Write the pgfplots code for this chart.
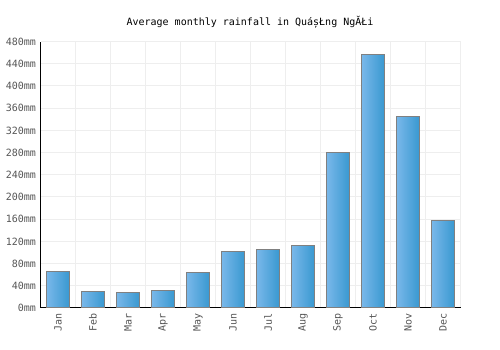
\documentclass[border=0pt]{standalone}
\usepackage{pgfplots}
\pgfplotsset{compat=1.18}
\usepackage{fontspec}
\setmainfont{DejaVu Sans Mono}
\definecolor{barL}{HTML}{7AB8EA}
\definecolor{barR}{HTML}{3898D0}
\definecolor{gridc}{HTML}{EEEEEE}
\definecolor{tickc}{HTML}{555555}
\begin{document}
\begin{tikzpicture}
\path[use as bounding box] (0,0) rectangle (500pt,350pt);
\node[font=\fontsize{10}{12}\selectfont, text=black] at (250pt,328pt) {Average monthly rainfall in QuáșŁng NgĂŁi};
\begin{axis}[
  at={(40.5pt,42pt)}, anchor=south west,
  scale only axis, width=420pt, height=266.4pt,
  xmin=-0.5, xmax=11.5, ymin=0, ymax=480,
  xtick={0,...,11},
  xticklabels={Jan,Feb,Mar,Apr,May,Jun,Jul,Aug,Sep,Oct,Nov,Dec},
  minor xtick={-0.5,0.5,...,11.5},
  xminorgrids, ymajorgrids,
  ytick={0,40,...,480},
  yticklabel={\pgfmathprintnumber{\tick}mm},
  /pgf/number format/assume math mode=true,
  grid style={draw=gridc, line width=1pt},
  minor grid style={draw=gridc, line width=1pt},
  axis x line*=bottom, axis y line*=left,
  axis line style={black, line width=1pt},
  major tick length=0pt, minor tick length=0pt,
  tick style={draw=none},
  ticklabel style={font=\fontsize{10}{12}\selectfont, text=tickc},
  x tick label style={rotate=90, anchor=east, xshift=-2pt},
  y tick label style={xshift=-1pt},
  clip=false,
  mybar/.style={ybar, bar width=0.667, bar shift=0pt, draw=gray, line width=1pt, left color=barL, right color=barR, mark=none},
]
\addplot[mybar] coordinates {(0,66)};
\addplot[mybar] coordinates {(1,30)};
\addplot[mybar] coordinates {(2,28)};
\addplot[mybar] coordinates {(3,32)};
\addplot[mybar] coordinates {(4,64)};
\addplot[mybar] coordinates {(5,102)};
\addplot[mybar] coordinates {(6,106)};
\addplot[mybar] coordinates {(7,113)};
\addplot[mybar] coordinates {(8,280)};
\addplot[mybar] coordinates {(9,456)};
\addplot[mybar] coordinates {(10,345)};
\addplot[mybar] coordinates {(11,158)};
\end{axis}
\end{tikzpicture}
\end{document}
